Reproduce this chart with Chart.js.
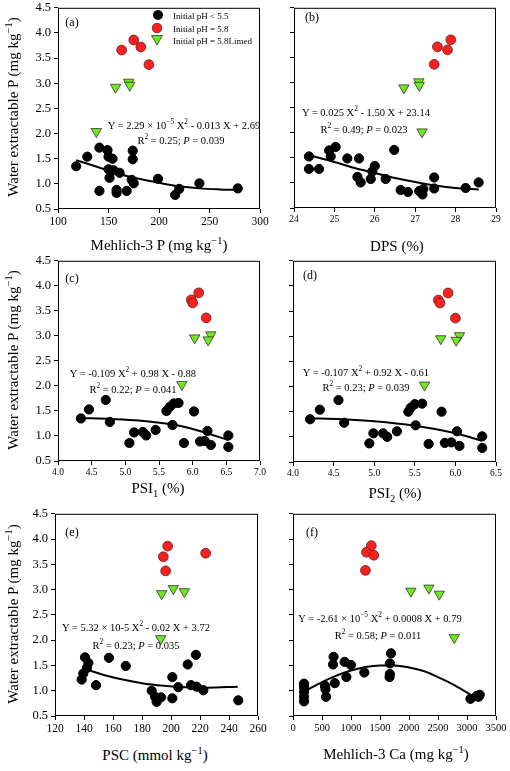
<!DOCTYPE html>
<html>
<head>
<meta charset="utf-8">
<script src="https://cdn.jsdelivr.net/npm/chart.js@4.4.1/dist/chart.umd.min.js"></script>
<style>
  body { margin: 0; background: #fff; }
  #page { position: relative; width: 510px; height: 771px; overflow: hidden; font-family: "Liberation Serif", "Times New Roman", serif; color: #000; }
  canvas { position: absolute; }
  .t { position: absolute; white-space: nowrap; line-height: 1; }
  sup, sub { font-size: 70%; line-height: 0; }
</style>
</head>
<body>
<div id="page"></div>
<script>
// (a) Mehlich-3 P
const aBlackX = [118, 129, 141, 149, 150, 154, 174, 174, 150, 155, 161, 151, 173, 175, 199, 141, 158, 158, 168, 216, 220, 240, 278];
const aBlackY = [1.35, 1.54, 1.72, 1.67, 1.54, 1.50, 1.66, 1.49, 1.29, 1.27, 1.22, 1.12, 1.08, 1.01, 1.10, 0.86, 0.88, 0.82, 0.86, 0.78, 0.90, 1.01, 0.91];
const aRedX = [163, 175, 182, 190];
const aRedY = [3.66, 3.86, 3.72, 3.37];
const aGreenX = [157, 170, 171, 138];
const aGreenY = [2.92, 3.02, 2.96, 2.04];
const aFitX = [118, 140, 160, 180, 200, 220, 240, 260, 278];
const aFitY = [1.47, 1.33, 1.20, 1.10, 1.02, 0.95, 0.91, 0.89, 0.88];

// (b) DPS
const bBlackX = [24.37, 24.37, 24.62, 24.87, 25.03, 24.91, 25.32, 25.61, 26.48, 26.0, 25.94, 25.57, 25.65, 25.9, 26.27, 26.64, 26.82, 27.1, 27.18, 27.2, 27.47, 27.47, 28.25, 28.57];
const bBlackY = [1.53, 1.28, 1.28, 1.65, 1.72, 1.53, 1.49, 1.49, 1.66, 1.34, 1.23, 1.12, 1.01, 1.08, 1.08, 0.86, 0.82, 0.84, 0.77, 0.88, 1.11, 0.89, 0.90, 1.01];
const bRedX = [27.55, 27.88, 27.8, 27.47];
const bRedY = [3.72, 3.86, 3.66, 3.37];
const bGreenX = [26.72, 27.09, 27.1, 27.17];
const bGreenY = [2.90, 3.02, 2.95, 2.02];
const bFitX = [24.45, 25, 25.5, 26, 26.5, 27, 27.5, 28, 28.57];
const bFitY = [1.54, 1.42, 1.30, 1.20, 1.10, 1.02, 0.95, 0.90, 0.87];

// (c) PSI1
const cBlackX = [4.34, 4.46, 4.71, 4.77, 5.13, 5.06, 5.26, 5.31, 5.45, 5.61, 5.66, 5.72, 5.79, 5.70, 6.02, 5.87, 6.22, 6.11, 6.18, 6.27, 6.53, 6.53];
const cBlackY = [1.35, 1.53, 1.72, 1.28, 1.07, 0.86, 1.08, 1.01, 1.12, 1.50, 1.58, 1.65, 1.66, 1.22, 1.49, 0.86, 1.10, 0.89, 0.90, 0.82, 1.01, 0.78];
const cRedX = [5.98, 6.0, 6.09, 6.2];
const cRedY = [3.72, 3.66, 3.86, 3.36];
const cGreenX = [6.03, 6.27, 6.23, 5.84];
const cGreenY = [2.96, 3.02, 2.92, 2.03];
const cFitX = [4.35, 4.8, 5.2, 5.7, 6.0, 6.2, 6.53];
const cFitY = [1.36, 1.34, 1.31, 1.23, 1.14, 1.06, 0.92];

// (d) PSI2
const dBlackX = [4.21, 4.33, 4.56, 4.63, 4.94, 4.99, 5.11, 5.16, 5.28, 5.42, 5.45, 5.50, 5.59, 5.51, 5.67, 5.83, 6.02, 5.87, 5.95, 6.05, 6.33, 6.33];
const dBlackY = [1.35, 1.54, 1.73, 1.28, 0.87, 1.07, 1.07, 1.00, 1.11, 1.50, 1.58, 1.65, 1.66, 1.23, 0.86, 1.50, 1.11, 0.88, 0.89, 0.82, 1.01, 0.78];
const dRedX = [5.79, 5.81, 5.91, 6.0];
const dRedY = [3.72, 3.66, 3.86, 3.36];
const dGreenX = [5.82, 6.05, 6.01, 5.62];
const dGreenY = [2.95, 3.01, 2.92, 2.03];
const dFitX = [4.21, 4.6, 5.0, 5.5, 6.0, 6.33];
const dFitY = [1.37, 1.35, 1.31, 1.22, 1.07, 0.92];

// (e) PSC
const eBlackX = [140.7, 143, 142, 139.5, 138.4, 148.3, 157.2, 168.8, 186.7, 189, 190.1, 193.1, 200.9, 200.9, 205, 211.5, 217.2, 213.8, 217.7, 222.3, 246.4];
const eBlackY = [1.66, 1.55, 1.45, 1.34, 1.22, 1.11, 1.65, 1.49, 1.00, 0.88, 0.78, 0.87, 0.85, 1.27, 1.07, 1.52, 1.71, 1.11, 1.08, 1.01, 0.81];
const eRedX = [194.7, 197.7, 196.3, 223.9];
const eRedY = [3.65, 3.86, 3.37, 3.72];
const eGreenX = [193.6, 201.6, 209.2, 192.9];
const eGreenY = [2.92, 3.02, 2.96, 2.03];
const eFitX = [144, 155, 165, 180, 195, 210, 225, 246];
const eFitY = [1.40, 1.30, 1.23, 1.15, 1.10, 1.07, 1.06, 1.08];

// (f) Mehlich-3 Ca
const fBlackX = [190, 190, 190, 190, 190, 550, 560, 570, 700, 690, 720, 890, 920, 1000, 1230, 1690, 1670, 1670, 1665, 3060, 3170, 3200, 3220];
const fBlackY = [1.14, 1.07, 0.98, 0.88, 0.79, 1.10, 1.03, 0.88, 1.67, 1.52, 1.15, 1.57, 1.27, 1.51, 1.36, 1.74, 1.54, 1.33, 1.27, 0.84, 0.90, 0.88, 0.92];
const fRedX = [1350, 1267, 1393, 1249];
const fRedY = [3.87, 3.74, 3.68, 3.38];
const fGreenX = [2032, 2343, 2522, 2781];
const fGreenY = [2.97, 3.03, 2.91, 2.05];
const fFitX = [250, 500, 750, 1000, 1250, 1500, 1750, 2000, 2250, 2500, 2750, 3050];
const fFitY = [1.02, 1.17, 1.30, 1.40, 1.47, 1.50, 1.50, 1.46, 1.39, 1.27, 1.13, 0.93];

const FONT = '"Liberation Serif", "Times New Roman", serif';
const PL = 40, PT = 6, PR = 16, PB = 26;
const page = document.getElementById("page");

function pts(xs, ys) {
    return xs.map((x, i) => ({ x: x, y: ys[i] }));
}

// draws the full frame round the plot area
const boxPlugin = {
    id: "box",
    afterDraw(chart) {
        const a = chart.chartArea, ctx = chart.ctx;
        ctx.save();
        ctx.strokeStyle = "#000";
        ctx.lineWidth = 1;
        ctx.strokeRect(a.left + 0.5, a.top + 0.5, a.right - a.left - 1, a.bottom - a.top - 1);
        ctx.restore();
    }
};

function panel(box, xMin, xMax, xStep, xDec, xSize, yLabels, data) {
    const [l, t, r, b] = box;
    const cv = document.createElement("canvas");
    cv.width = r - l + PL + PR;
    cv.height = b - t + PT + PB;
    cv.style.left = (l - PL) + "px";
    cv.style.top = (t - PT) + "px";
    page.appendChild(cv);

    new Chart(cv, {
        type: "scatter",
        data: {
            datasets: [
                { type: "line", data: pts(data[6], data[7]), borderColor: "#000", borderWidth: 2, pointRadius: 0, cubicInterpolationMode: "monotone", fill: false },
                { data: pts(data[0], data[1]), backgroundColor: "#000", borderColor: "#000", borderWidth: 1, pointRadius: 4.6 },
                { data: pts(data[2], data[3]), backgroundColor: "#ff1f1f", borderColor: "#5a2020", borderWidth: 0.8, pointRadius: 4.9 },
                { data: pts(data[4], data[5]), pointStyle: "triangle", rotation: 180, backgroundColor: "#6fe81c", borderColor: "#333", borderWidth: 0.8, pointRadius: 6 }
            ]
        },
        options: {
            responsive: false,
            animation: false,
            layout: { padding: { left: 0, top: PT, right: PR, bottom: 0 } },
            plugins: { legend: { display: false }, tooltip: { enabled: false } },
            scales: {
                x: {
                    type: "linear", min: xMin, max: xMax,
                    ticks: { stepSize: xStep, autoSkip: false, maxRotation: 0, padding: 2, color: "#000",
                        font: { family: FONT, size: xSize }, callback: v => v.toFixed(xDec) },
                    grid: { drawOnChartArea: false, tickLength: 4, color: "#000" },
                    border: { display: false },
                    afterFit: s => { s.height = PB; s.paddingLeft = 0; s.paddingRight = 0; }
                },
                y: {
                    type: "linear", min: 0.5, max: 4.5,
                    ticks: { stepSize: 0.5, padding: 3, color: "#000",
                        font: { family: FONT, size: 12.5 }, callback: v => yLabels ? v.toFixed(1) : "" },
                    grid: { drawOnChartArea: false, tickLength: 4, color: "#000" },
                    border: { display: false },
                    afterFit: s => { s.width = PL; s.paddingTop = 0; s.paddingBottom = 0; }
                }
            }
        },
        plugins: [boxPlugin]
    });
}

function txt(html, x, y, size, mode) {
    const d = document.createElement("div");
    d.className = "t";
    d.innerHTML = html;
    d.style.left = x + "px";
    d.style.top = y + "px";
    d.style.fontSize = size + "px";
    if (mode === "left") d.style.transform = "translate(0,-50%)";
    else if (mode === "rot") d.style.transform = "translate(-50%,-50%) rotate(-90deg)";
    else d.style.transform = "translate(-50%,-50%)";
    page.appendChild(d);
}

panel([58, 7, 260, 209], 100, 300, 50, 0, 11.5, true, [aBlackX, aBlackY, aRedX, aRedY, aGreenX, aGreenY, aFitX, aFitY]);
panel([294, 7, 496, 208], 24, 29, 1, 0, 9.5, false, [bBlackX, bBlackY, bRedX, bRedY, bGreenX, bGreenY, bFitX, bFitY]);
panel([58, 260, 260, 461], 4, 7, 0.5, 1, 9.5, true, [cBlackX, cBlackY, cRedX, cRedY, cGreenX, cGreenY, cFitX, cFitY]);
panel([293, 260, 496, 462], 4, 6.5, 0.5, 1, 9.5, false, [dBlackX, dBlackY, dRedX, dRedY, dGreenX, dGreenY, dFitX, dFitY]);
panel([55, 513, 258, 716], 120, 260, 20, 0, 11.5, true, [eBlackX, eBlackY, eRedX, eRedY, eGreenX, eGreenY, eFitX, eFitY]);
panel([293, 513, 496, 716], 0, 3500, 500, 0, 10.5, false, [fBlackX, fBlackY, fRedX, fRedY, fGreenX, fGreenY, fFitX, fFitY]);

// legend in panel (a)
txt('<svg width="11" height="11"><circle cx="5.5" cy="5.5" r="5" fill="#000"/></svg>', 158, 16, 9);
txt('<svg width="11" height="11"><circle cx="5.5" cy="5.5" r="4.8" fill="#ff1f1f" stroke="#5a2020" stroke-width="0.8"/></svg>', 157, 29, 9);
txt('<svg width="12" height="11"><polygon points="0.5,1 11.5,1 6,10.5" fill="#6fe81c" stroke="#333" stroke-width="0.8"/></svg>', 157, 41, 9);
txt("Initial pH &lt; 5.5", 173, 16, 9, "left");
txt("Initial pH = 5.8", 173, 29, 9, "left");
txt("Initial pH = 5.8Limed", 173, 41, 9, "left");

// panel letters
txt("(a)", 72, 22, 12);
txt("(b)", 312, 17, 12);
txt("(c)", 72, 278, 12);
txt("(d)", 310, 275, 12);
txt("(e)", 72, 532, 12);
txt("(f)", 312, 532, 12);

// regression equations
txt("Y = 2.29 × 10<sup>−5</sup> X<sup>2</sup> - 0.013 X + 2.69", 184, 126, 10.5);
txt("R<sup>2</sup> = 0.25; <i>P</i> = 0.039", 181, 141, 10.5);
txt("Y = 0.025 X<sup>2</sup> - 1.50 X + 23.14", 366, 113, 10.5);
txt("R<sup>2</sup> = 0.49; <i>P</i> = 0.023", 364, 130, 10.5);
txt("Y = -0.109 X<sup>2</sup> + 0.98 X - 0.88", 133, 374, 10.5);
txt("R<sup>2</sup> = 0.22; <i>P</i> = 0.041", 133, 390, 10.5);
txt("Y = -0.107 X<sup>2</sup> + 0.92 X - 0.61", 366, 373, 10.5);
txt("R<sup>2</sup> = 0.23; <i>P</i> = 0.039", 366, 388, 10.5);
txt("Y = 5.32 × 10-5 X<sup>2</sup> - 0.02 X + 3.72", 136, 628, 10.5);
txt("R<sup>2</sup> = 0.23; <i>P</i> = 0.035", 136, 646, 10.5);
txt("Y = -2.61 × 10<sup>−5</sup> X<sup>2</sup> + 0.0008 X + 0.79", 380, 619, 10.5);
txt("R<sup>2</sup> = 0.58; <i>P</i> = 0.011", 378, 636, 10.5);

// axis titles
txt("Mehlich-3 P (mg kg<sup>−1</sup>)", 159, 245, 15);
txt("DPS (%)", 397, 246, 15);
txt("PSI<sub>1</sub> (%)", 158, 488, 15);
txt("PSI<sub>2</sub> (%)", 395, 493, 15);
txt("PSC (mmol kg<sup>−1</sup>)", 155, 755, 15);
txt("Mehlich-3 Ca (mg kg<sup>−1</sup>)", 396, 754, 15);
txt("Water extractable P (mg kg<sup>−1</sup>)", 13, 107, 15, "rot");
txt("Water extractable P (mg kg<sup>−1</sup>)", 13, 360, 15, "rot");
txt("Water extractable P (mg kg<sup>−1</sup>)", 13, 614, 15, "rot");
</script>
</body>
</html>
